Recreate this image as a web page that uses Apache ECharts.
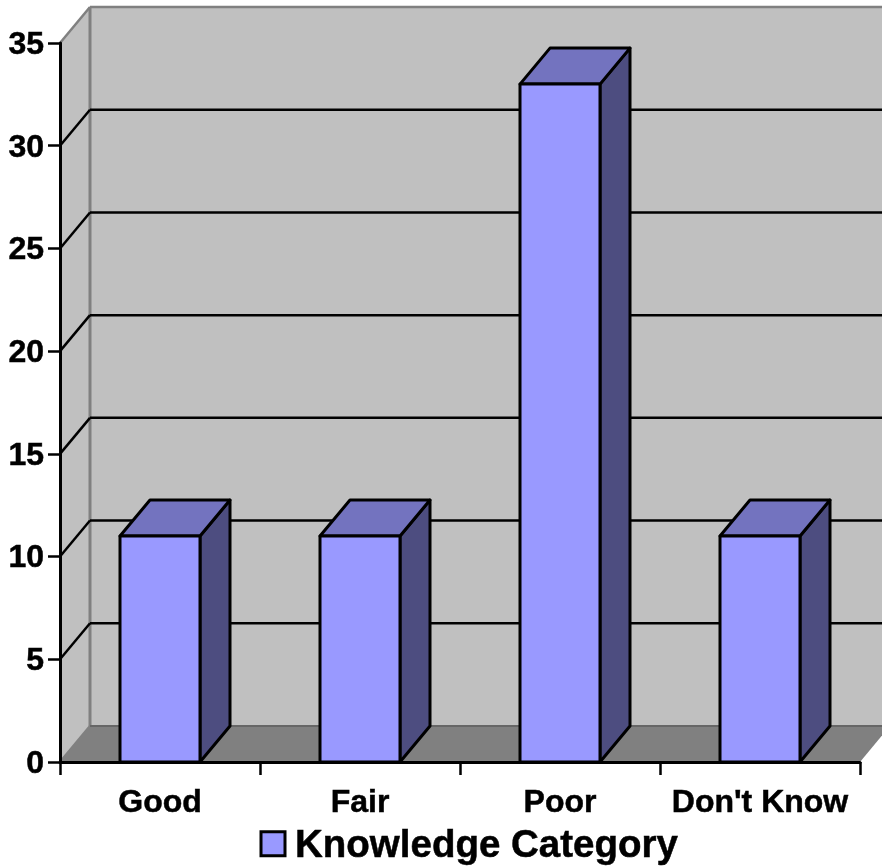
<!DOCTYPE html>
<html><head><meta charset="utf-8">
<style>html,body{margin:0;padding:0;background:#fff}#c{width:882px;height:867px}</style>
<script src="https://cdn.jsdelivr.net/npm/echarts@6/dist/echarts.min.js"></script>
</head><body><div id="c"></div>
<script>
var categories = ["Good", "Fair", "Poor", "Don't Know"];
var seriesName = "Knowledge Category";
var values = [11, 11, 33, 11];
var gridValues = [5, 10, 15, 20, 25, 30];
var axisMax = [35];
var DX = 30, DY = -36;
var FONT = '"Liberation Sans", Arial, sans-serif';

function poly(pts, fill, stroke, lw, z2) {
  return {type:'polygon', z2:z2||0, shape:{points:pts},
    style:{fill:fill, stroke:stroke||null, lineWidth:lw||0, lineJoin:'round'}};
}
function seg(a, b, color, lw, z2) {
  return {type:'line', z2:z2||0, shape:{x1:a[0],y1:a[1],x2:b[0],y2:b[1]},
    style:{stroke:color, lineWidth:lw, lineCap:'butt'}};
}
function renderWalls(params, api) {
  var cs = params.coordSys;
  var top = api.coord([0, api.value(0)])[1];
  var bot = api.coord([0, 0])[1];
  var L = cs.x, R = cs.x + cs.width;
  var edge = '#808080';
  return {type:'group', children:[
    poly([[L+DX,top+DY],[R+DX,top+DY],[R+DX,bot+DY],[L+DX,bot+DY]], '#c0c0c0', null, 0, 0),
    poly([[L,top],[L+DX,top+DY],[L+DX,bot+DY],[L,bot]], '#c0c0c0', null, 0, 0),
    poly([[L,bot],[L+DX,bot+DY],[R+DX,bot+DY],[R,bot]], '#808080', null, 0, 1),
    seg([L+DX,top+DY],[R+DX,top+DY], edge, 2.5, 2),
    seg([L,top],[L+DX,top+DY], edge, 2.5, 2),
    seg([L+DX,top+DY],[L+DX,bot+DY], edge, 3, 2),
    seg([L,bot],[L+DX,bot+DY], edge, 2.5, 2),
    seg([L+DX,bot+DY],[R+DX,bot+DY], '#666666', 2, 2)
  ]};
}
function renderGrid(params, api) {
  var cs = params.coordSys;
  var y = api.coord([0, api.value(0)])[1];
  var L = cs.x, R = cs.x + cs.width;
  return {type:'group', children:[
    seg([L,y],[L+DX,y+DY], '#000', 2.5),
    seg([L+DX,y+DY],[R+DX,y+DY], '#000', 2.5)
  ]};
}
function renderBar(params, api) {
  var c = api.coord([api.value(0), api.value(1)]);
  var b = api.coord([api.value(0), 0]);
  var w = api.size([1,0])[0] * 0.4;
  var x0 = c[0]-w/2, x1 = c[0]+w/2, yt = c[1], yb = b[1];
  var s = '#000', lw = 3;
  return {type:'group', children:[
    poly([[x1,yt],[x1+DX,yt+DY],[x1+DX,yb+DY],[x1,yb]], '#4d4d80', s, lw, 1),
    poly([[x0,yt],[x0+DX,yt+DY],[x1+DX,yt+DY],[x1,yt]], '#7373bf', s, lw, 2),
    poly([[x0,yt],[x1,yt],[x1,yb],[x0,yb]], '#9999ff', s, lw, 3)
  ]};
}
function textRich(size, pad) {
  return {fontFamily:FONT, fontWeight:'bold', fontSize:size, color:'#000', padding:pad,
          textBorderColor:'#000', textBorderWidth:0.5};
}
var chart = echarts.init(document.getElementById('c'), null, {renderer:'canvas'});
chart.setOption({
  animation:false,
  backgroundColor:'#ffffff',
  grid:{left:60, top:43, width:800, height:719, containLabel:false},
  legend:{
    data:[{name:seriesName, icon:'rect'}],
    left:259.5, top:827, itemWidth:24, itemHeight:24, itemGap:18, padding:0,
    selectedMode:false,
    itemStyle:{color:'#9999ff', borderColor:'#000', borderWidth:3},
    formatter:'{a|{name}}',
    textStyle:{fontFamily:FONT, fontWeight:'bold', fontSize:38.5, color:'#000',
      rich:{a:textRich(38.5,[6,0,0,5])}}
  },
  xAxis:{type:'category', data:categories, boundaryGap:true, z:10,
    axisLine:{show:true, onZero:false, lineStyle:{color:'#000', width:3}},
    axisTick:{show:true, alignWithLabel:false, length:13, lineStyle:{color:'#000', width:2.5}},
    axisLabel:{interval:0, fontFamily:FONT, fontWeight:'bold', fontSize:32, color:'#000', margin:25, hideOverlap:false, textBorderColor:'#000', textBorderWidth:0.5},
    splitLine:{show:false}
  },
  yAxis:{type:'value', min:0, max:35, interval:5, z:10,
    axisLine:{show:true, lineStyle:{color:'#000', width:3}},
    axisTick:{show:true, length:12, lineStyle:{color:'#000', width:2.5}},
    axisLabel:{fontFamily:FONT, fontWeight:'bold', fontSize:32, color:'#000', margin:16,
      formatter:'{a|{value}}', rich:{a:textRich(32,[4,0,0,0])}},
    splitLine:{show:false}
  },
  series:[
    {type:'custom', name:'walls', coordinateSystem:'cartesian2d', z:1, clip:false, silent:true,
     renderItem:renderWalls, data:axisMax.map(function(v){return [v];}), encode:{y:0}},
    {type:'custom', name:'gridlines', coordinateSystem:'cartesian2d', z:2, clip:false, silent:true,
     renderItem:renderGrid, data:gridValues.map(function(v){return [v];}), encode:{y:0}},
    {type:'custom', name:seriesName, coordinateSystem:'cartesian2d', z:3, clip:false,
     itemStyle:{color:'#9999ff'},
     renderItem:renderBar, data:values.map(function(v,i){return [i,v];}), encode:{x:0,y:1}}
  ]
});
</script></body></html>
